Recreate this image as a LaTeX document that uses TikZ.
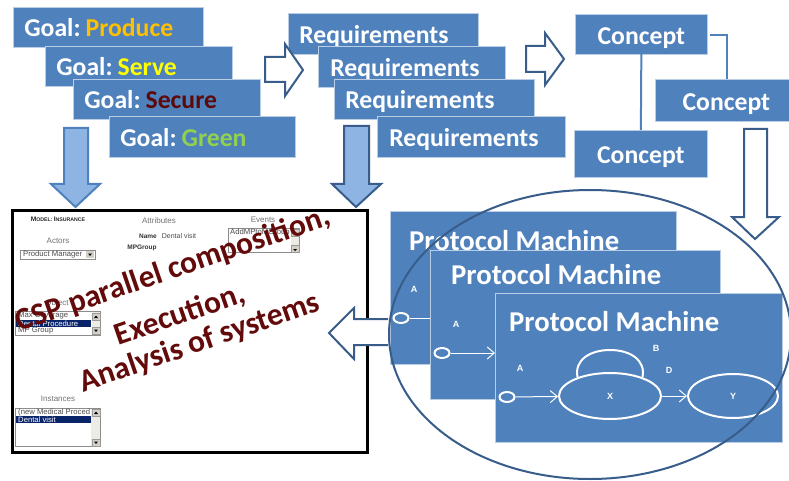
\documentclass[tikz,border=0pt]{standalone}
\usepackage{fontspec}
\setmainfont{Carlito}
\newfontfamily\uifont{Liberation Sans}
\usetikzlibrary{arrows.meta,shapes.geometric}
\definecolor{boxblue}{HTML}{4F81BD}
\definecolor{boxedge}{HTML}{B9CDE5}
\definecolor{darkedge}{HTML}{385D8A}
\definecolor{lightfill}{HTML}{8EB4E3}
\definecolor{goalorange}{HTML}{FFC000}
\definecolor{goalyellow}{HTML}{FFFF00}
\definecolor{goalred}{HTML}{5C0A0A}
\definecolor{goalgreen}{HTML}{92D050}
\definecolor{cspred}{HTML}{630A0A}
\definecolor{navysel}{HTML}{0A246A}
\definecolor{uigrey}{HTML}{D4D0C8}
\definecolor{uitrack}{HTML}{EDEBE6}
\newcommand\pxfont[1]{\fontsize{#1}{#1}\selectfont}
\newcommand\bl[1]{\raisebox{0pt}[20pt][1.4pt]{#1}}
\newcommand\blc[1]{\raisebox{0pt}[20pt][0.4pt]{#1}}
\newcommand\goaltxt[2]{\bl{Goal:\hspace{5pt}\textcolor{#1}{#2}}}
\tikzset{
  bx/.style={rectangle,anchor=north west,fill=boxblue,draw=boxedge,line width=0.7pt,text=white,
    font=\pxfont{25.7}\bfseries,align=left,inner ysep=0pt},
  conceptbox/.style={rectangle,anchor=north west,fill=boxblue,draw=boxedge,line width=0.7pt,text=white,
    font=\pxfont{25.7}\bfseries,align=center,inner sep=0pt},
  pmbox/.style={rectangle,anchor=north west,fill=boxblue,draw=boxedge,line width=0.7pt,inner sep=0pt},
  pmtitle/.style={anchor=base west,text=white,font=\pxfont{28.7}\bfseries,inner sep=0pt},
  statetxt/.style={text=white,font=\uifont\pxfont{9}\bfseries,inner sep=0pt},
  startstate/.style={ellipse,draw=white,line width=2pt,fill=boxblue,minimum width=15pt,minimum height=10pt,inner sep=0pt},
  bigstate/.style={ellipse,draw=white,line width=2pt,fill=boxblue,inner sep=0pt},
  whitearrow/.style={draw=darkedge,line width=2pt,fill=white,line join=miter},
  bluearrowA/.style={draw=boxblue,line width=2pt,fill=lightfill,line join=miter},
  bluearrowB/.style={draw=darkedge,line width=2pt,fill=lightfill,line join=miter},
  flow/.style={draw=white,line width=1pt,-{Straight Barb[length=7pt,width=12pt,line width=1pt]}},
  link/.style={draw=boxblue,line width=2pt,line join=miter},
  uilab/.style={font=\uifont\pxfont{8},text=black!55,inner sep=0pt},
  uibold/.style={font=\uifont\pxfont{6.5}\bfseries,text=black!80,inner sep=0pt},
  uival/.style={font=\uifont\pxfont{7},text=black!70,inner sep=0pt},
  uilist/.style={rectangle,anchor=north west,draw=black!45,line width=0.5pt,fill=white,inner sep=0pt},
  uiitem/.style={font=\uifont\pxfont{7.7},text=black!70,anchor=west,inner sep=0pt},
  uiseltxt/.style={font=\uifont\pxfont{7.7},text=white,anchor=west,inner sep=0pt},
  cspt/.style={text=cspred,font=\pxfont{31.5}\bfseries,rotate=19,inner sep=0pt},
  sbtn/.style={fill=uigrey,draw=black!40,line width=0.3pt},
}
\begin{document}
\begin{tikzpicture}[x=1pt,y=-1pt]
\useasboundingbox (0,0) rectangle (789,481);
\fill[white] (0,0) rectangle (789,481);
% Goals
\node[bx,text width=168pt,inner xsep=11pt,minimum height=40pt] (g1) at (13,7) {\goaltxt{goalorange}{Produce}};
\node[bx,text width=165pt,inner xsep=11pt,minimum height=40pt] (g2) at (45,46) {\goaltxt{goalyellow}{Serve}};
\node[bx,text width=165pt,inner xsep=11pt,minimum height=40pt] (g3) at (73,79) {\goaltxt{goalred}{Secure}};
\node[bx,text width=164pt,inner xsep=11pt,minimum height=41pt] (g4) at (109,116) {\goaltxt{goalgreen}{Green}};
% Requirements
\node[bx,text width=168pt,inner xsep=11pt,minimum height=41pt] (r1) at (288,13) {\bl{Requirements}};
\node[bx,text width=163pt,inner xsep=12pt,minimum height=41pt] (r2) at (318,46) {\bl{Requirements}};
\node[bx,text width=178pt,inner xsep=11pt,minimum height=40pt] (r3) at (334,79) {\bl{Requirements}};
\node[bx,text width=164pt,inner xsep=12pt,minimum height=41pt] (r4) at (377,116) {\bl{Requirements}};
% Concepts
\node[conceptbox,minimum width=132pt,minimum height=40pt] (c1) at (575,14) {\blc{Concept}};
\node[conceptbox,minimum width=142pt,minimum height=42pt] (c2) at (655,79) {\blc{Concept}};
\node[conceptbox,minimum width=133pt,minimum height=47pt] (c3) at (574,130) {\blc{Concept}};
\draw[link] ([xshift=2pt,yshift=-1pt]c1.east) -| ([xshift=1pt]c2.north);
\draw[link] ([yshift=1.5pt]c1.south) -- (c3.north);
% block arrows
\draw[whitearrow] (265,57) -- (285,57) -- (285,44) -- (303,70) -- (285,96) -- (285,82) -- (265,82) -- cycle;
\draw[whitearrow] (526,46) -- (545,46) -- (545,33) -- (564,59) -- (545,85) -- (545,72) -- (526,72) -- cycle;
\draw[bluearrowA] (64,128) -- (88,128) -- (88,184) -- (100,184) -- (75.5,207) -- (51,184) -- (64,184) -- cycle;
\draw[bluearrowB] (344,126) -- (369,126) -- (369,184) -- (381,184) -- (356,207) -- (332,184) -- (344,184) -- cycle;
\draw[whitearrow] (744,129) -- (767,129) -- (767,217) -- (779,217) -- (755,239) -- (732,217) -- (744,217) -- cycle;
% screenshot panel
\node[rectangle,anchor=north west,draw=black,line width=3pt,fill=white,minimum width=355pt,minimum height=242pt,inner sep=0pt] (panel) at (11,209) {};
\node[font=\uifont\pxfont{5.2}\bfseries,text=black!85,inner sep=0pt] (t1) at (58,219) {{\pxfont{6.6}M}ODEL: {\pxfont{6.6}I}NSURANCE};
\node[uilab] (t2) at (159,221) {Attributes};
\node[uilab] (t3) at (263,220) {Events};
\node[uilab] (t4) at (58,241) {Actors};
\node[uibold] (t5) at (148,236) {Name};
\node[uival] (t6) at (179,236) {Dental visit};
\node[uibold] (t7) at (142,248) {MPGroup};
\node[uilab] (t8) at (57,303) {Object};
\node[uilab] (t9) at (58,399) {Instances};
% actors dropdown
\node[uilist,minimum width=75pt,minimum height=9pt] (l1) at (20,250) {};
\node[uiitem] (l1t) at (23,254.5) {Product Manager};
\fill[uigrey] (86,251) rectangle (94,258);
\fill[black] (88,253.5) -- (92,253.5) -- (90,256) -- cycle;
% events list
\node[uilist,minimum width=71pt,minimum height=24pt] (l2) at (228,228) {};
\node[uiitem] (l2t) at (230,233) {AddMPtoMGroup};
\fill[uitrack] (291,229) rectangle (299,252);
\filldraw[sbtn] (291,229) rectangle (299,236);
\filldraw[sbtn] (291,245) rectangle (299,252);
\fill[black] (293,249) -- (297,249) -- (295,251) -- cycle;
% objects list
\node[uilist,minimum width=85pt,minimum height=24pt] (l3) at (15,311) {};
\fill[uitrack] (92,312) rectangle (100,335);
\filldraw[sbtn] (92,313) rectangle (100,320);
\filldraw[sbtn] (92,327) rectangle (100,334);
\fill[black] (94,318) -- (98,318) -- (96,315.5) -- cycle;
\fill[black] (94,329.5) -- (98,329.5) -- (96,332) -- cycle;
\fill[navysel] (16,320) rectangle (91,327);
\node[uiitem] (l3a) at (18,316) {Max Coverage};
\node[uiseltxt] (l3b) at (18,323.5) {Dental Procedure};
\node[uiitem] (l3c) at (18,331) {MP Group};
% instances list
\node[uilist,minimum width=85pt,minimum height=38pt] (l4) at (15,408) {};
\fill[uitrack] (91,409) rectangle (100,446);
\filldraw[sbtn] (92,409) rectangle (100,416);
\filldraw[sbtn] (92,439) rectangle (100,446);
\fill[black] (94,414) -- (98,414) -- (96,411.5) -- cycle;
\fill[black] (94,441.5) -- (98,441.5) -- (96,444) -- cycle;
\fill[navysel] (16,416) rectangle (91,423);
\node[uiitem] (l4a) at (18,412.5) {(new Medical Proced};
\node[uiseltxt] (l4b) at (18,419.5) {Dental visit};
% rotated text
\node[cspt] (csp1) at (173,270) {CSP parallel composition,};
\node[cspt] (csp2) at (180,315) {Execution,};
\node[cspt] (csp3) at (200,343) {Analysis of systems};
% left arrow
\draw[whitearrow] (388,319) -- (354,319) -- (354,308) -- (329,333) -- (354,359) -- (354,345) -- (388,345);
% protocol machine 1
\node[pmbox,minimum width=286pt,minimum height=153pt] (pm1) at (390,211) {};
\node[pmtitle] (pm1t) at (409,250) {Protocol Machine};
\node[statetxt] (a1) at (414,289) {A};
\node[startstate] (s1) at (401,318) {};
\coordinate (s1end) at (431,318);
\draw[draw=white,line width=1pt] (s1) -- (s1end);
% protocol machine 2
\node[pmbox,minimum width=290pt,minimum height=149pt] (pm2) at (430,250) {};
\node[pmtitle] (pm2t) at (451,284) {Protocol Machine};
\node[statetxt] (a2) at (456,324) {A};
\node[startstate] (s2) at (442,353) {};
\coordinate (s2end) at (495,353);
\draw[flow] (s2) -- (s2end);
% protocol machine 3
\node[pmbox,minimum width=287pt,minimum height=149pt] (pm3) at (495,293) {};
\node[pmtitle] (pm3t) at (509,331) {Protocol Machine};
\node[statetxt] (a3) at (520,368) {A};
\node[statetxt] (b3) at (656,348) {B};
\node[statetxt] (d3) at (669,370) {D};
\node[startstate] (s3) at (507,397) {};
\node[bigstate,minimum width=102pt,minimum height=46pt] (x) at (610,396) {};
\node[bigstate,minimum width=90pt,minimum height=44pt] (y) at (733,396) {};
\node[statetxt] at (x) {X};
\node[statetxt] at (y) {Y};
\draw[draw=white,line width=2pt] (x.150) .. controls (574,360) and (590,350) .. (610,350) .. controls (630,350) and (646,360) .. (x.30);
\draw[flow] (s3) -- (x);
\draw[flow] (x) -- (y);
% enclosing ellipse
\node[ellipse,draw=darkedge,line width=2pt,minimum width=402pt,minimum height=289pt,inner sep=0pt] (ring) at (590,334.5) {};
\end{tikzpicture}
\end{document}
